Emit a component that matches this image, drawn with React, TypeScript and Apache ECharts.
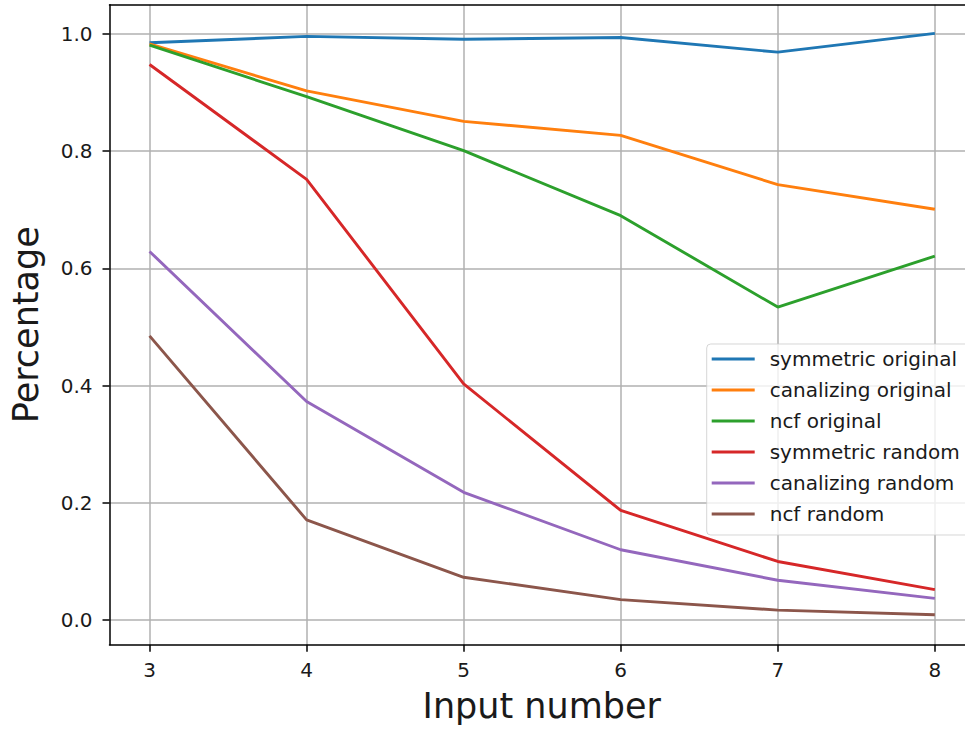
import React, { useEffect, useRef } from "react";
import * as echarts from "echarts";

const inputNumbers = [3, 4, 5, 6, 7, 8];
const symmetricOriginal = [0.985, 0.996, 0.991, 0.994, 0.969, 1.001];
const canalizingOriginal = [0.983, 0.903, 0.851, 0.827, 0.743, 0.701];
const ncfOriginal = [0.981, 0.893, 0.801, 0.690, 0.534, 0.621];
const symmetricRandom = [0.948, 0.752, 0.403, 0.187, 0.100, 0.052];
const canalizingRandom = [0.629, 0.373, 0.218, 0.120, 0.068, 0.037];
const ncfRandom = [0.485, 0.171, 0.073, 0.035, 0.017, 0.009];
const yTicks = [0.0, 0.2, 0.4, 0.6, 0.8, 1.0];

const seriesNames = [
  "symmetric original",
  "canalizing original",
  "ncf original",
  "symmetric random",
  "canalizing random",
  "ncf random",
];
const seriesValues = [
  symmetricOriginal,
  canalizingOriginal,
  ncfOriginal,
  symmetricRandom,
  canalizingRandom,
  ncfRandom,
];
const colors = ["#1f77b4", "#ff7f0e", "#2ca02c", "#d62728", "#9467bd", "#8c564b"];

const FONT = "DejaVu Sans";
const TEXT = "#1a1a1a";
const X_MIN = 2.745;
const X_MAX = 8.192;

export default function App() {
  const ref = useRef<HTMLDivElement>(null);
  useEffect(() => {
    if (!ref.current) return;
    const chart = echarts.init(ref.current, null, { renderer: "svg" });
    chart.setOption({
      animation: false,
      backgroundColor: "#ffffff",
      textStyle: { fontFamily: FONT },
      grid: {
        left: 106.5,
        top: 4.7,
        right: 0,
        bottom: 732 - 644.7,
        show: false,
      },
      legend: {
        orient: "vertical",
        left: 706.7,
        top: 344,
        padding: [5, 12, 11, 5],
        itemGap: 11,
        itemWidth: 43,
        itemHeight: 3,
        icon: "rect",
        selectedMode: false,
        backgroundColor: "rgba(255,255,255,0.8)",
        borderColor: "rgba(204,204,204,0.8)",
        borderWidth: 1,
        borderRadius: 4,
        textStyle: {
          fontFamily: FONT,
          fontSize: 20,
          lineHeight: 20,
          color: TEXT,
          padding: [0, 0, 0, 10],
        },
        data: seriesNames,
      },
      xAxis: [
        {
          type: "value",
          min: X_MIN,
          max: X_MAX,
          name: "Input number",
          nameLocation: "middle",
          nameGap: 61.5,
          nameTextStyle: {
            fontFamily: FONT,
            fontSize: 35,
            color: TEXT,
            verticalAlign: "middle",
            align: "center",
            padding: [0, 0, 0, 9],
          },
          axisLine: { show: true, onZero: false, lineStyle: { color: "#000", width: 1.5 } },
          axisTick: {
            show: true,
            inside: false,
            length: 7,
            customValues: inputNumbers,
            lineStyle: { color: "#000", width: 1.5 },
          },
          axisLabel: {
            customValues: inputNumbers,
            margin: 15,
            fontFamily: FONT,
            fontSize: 20,
            color: TEXT,
            formatter: (v: number) => String(v),
          },
          splitLine: { show: true, lineStyle: { color: "#b0b0b0", width: 1.5 } },
        },
        {
          type: "value",
          position: "top",
          min: X_MIN,
          max: X_MAX,
          axisLine: { show: true, onZero: false, lineStyle: { color: "#000", width: 1.5 } },
          axisTick: { show: false },
          axisLabel: { show: false },
          splitLine: { show: false },
        },
      ],
      yAxis: {
        type: "value",
        min: -0.042,
        max: 1.05,
        name: "Percentage",
        nameLocation: "middle",
        nameRotate: 90,
        nameGap: 84,
        nameTextStyle: {
          fontFamily: FONT,
          fontSize: 35,
          color: TEXT,
          verticalAlign: "middle",
          align: "center",
        },
        axisLine: { show: true, onZero: false, lineStyle: { color: "#000", width: 1.5 } },
        axisTick: {
          show: true,
          inside: false,
          length: 7,
          customValues: yTicks,
          lineStyle: { color: "#000", width: 1.5 },
        },
        axisLabel: {
          customValues: yTicks,
          margin: 17,
          fontFamily: FONT,
          fontSize: 20,
          color: TEXT,
          padding: [4, 0, 0, 0],
          formatter: (v: number) => v.toFixed(1),
        },
        splitLine: { show: true, lineStyle: { color: "#b0b0b0", width: 1.5 } },
      },
      series: seriesNames.map((name, i) => ({
        name,
        type: "line",
        xAxisIndex: 0,
        symbol: "none",
        silent: true,
        color: colors[i],
        lineStyle: { color: colors[i], width: 2.9 },
        emphasis: { disabled: true },
        z: 2 + i * 0.01,
        data: inputNumbers.map((x, j) => [x, seriesValues[i][j]]),
      })),
    });
    return () => chart.dispose();
  }, []);
  return (
    <div
      ref={ref}
      style={{ position: "absolute", left: 0, top: 0, width: 965, height: 732 }}
    />
  );
}
